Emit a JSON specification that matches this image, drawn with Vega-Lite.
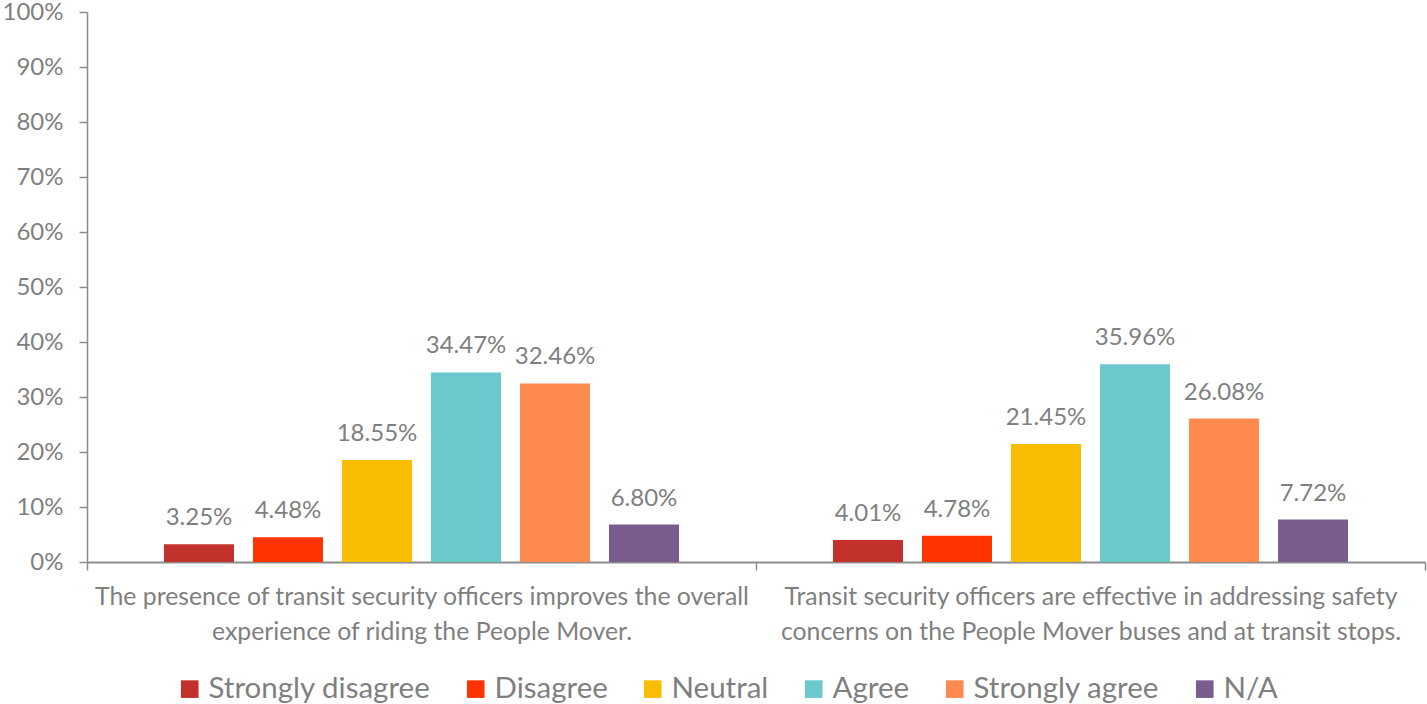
{
  "$schema": "https://vega.github.io/schema/vega-lite/v6.json",
  "width": 1338,
  "height": 550,
  "autosize": {"type": "none"},
  "padding": {"left": 87, "top": 12, "right": 2, "bottom": 142},
  "background": "white",
  "config": {
    "view": {"stroke": null},
    "font": "Lato",
    "axis": {"labelColor": "#7f7f7f", "domainColor": "#8c8c8c", "tickColor": "#8c8c8c", "grid": false, "title": null}
  },
  "data": {
    "values": [
      {"q": "Q1", "r": "Strongly disagree", "v": 0.0325},
      {"q": "Q1", "r": "Disagree", "v": 0.0448},
      {"q": "Q1", "r": "Neutral", "v": 0.1855},
      {"q": "Q1", "r": "Agree", "v": 0.3447},
      {"q": "Q1", "r": "Strongly agree", "v": 0.3246},
      {"q": "Q1", "r": "N/A", "v": 0.068},
      {"q": "Q2", "r": "Strongly disagree", "v": 0.0401},
      {"q": "Q2", "r": "Disagree", "v": 0.0478},
      {"q": "Q2", "r": "Neutral", "v": 0.2145},
      {"q": "Q2", "r": "Agree", "v": 0.3596},
      {"q": "Q2", "r": "Strongly agree", "v": 0.2608},
      {"q": "Q2", "r": "N/A", "v": 0.0772}
    ]
  },
  "encoding": {
    "x": {
      "field": "q", "type": "nominal", "sort": null,
      "scale": {"paddingInner": 0, "paddingOuter": 0},
      "axis": {
        "labelAngle": 0, "tickBand": "extent", "tickSize": 8, "domainWidth": 2, "tickWidth": 1.5,
        "labelFontSize": 24.8, "labelPadding": 14, "labelLineHeight": 35, "labelBaseline": "top",
        "labelLimit": 0, "labelOverlap": false,
        "labelExpr": "datum.value == 'Q1' ? ['The presence of transit security officers improves the overall', 'experience of riding the People Mover.'] : datum.value == 'Q2' ? ['Transit security officers are effective in addressing safety', 'concerns on the People Mover buses and at transit stops.'] : ''"
      }
    },
    "xOffset": {
      "field": "r", "type": "nominal", "sort": ["Strongly disagree", "Disagree", "Neutral", "Agree", "Strongly agree", "N/A"],
      "scale": {"paddingInner": 0.2135, "paddingOuter": 0.865}
    },
    "y": {
      "field": "v", "type": "quantitative",
      "scale": {"domain": [0, 1]},
      "axis": {"format": ".0%", "values": [0,0.1,0.2,0.3,0.4,0.5,0.6,0.7,0.8,0.9,1], "labelOverlap": false, "labelFontSize": 24, "tickSize": 8, "labelPadding": 16, "domainWidth": 1.5, "tickWidth": 1.5}
    }
  },
  "layer": [
    {
      "mark": {"type": "bar"},
      "encoding": {
        "color": {
          "field": "r", "type": "nominal",
          "sort": ["Strongly disagree", "Disagree", "Neutral", "Agree", "Strongly agree", "N/A"],
          "scale": {
            "domain": ["Strongly disagree", "Disagree", "Neutral", "Agree", "Strongly agree", "N/A"],
            "range": ["#C3312C", "#FF3300", "#F8BD00", "#6BC8CC", "#FF8A50", "#7B5C8F"]
          },
          "legend": {
            "orient": "none", "legendX": 88, "legendY": 662, "direction": "horizontal", "title": null,
            "symbolType": "square", "symbolSize": 310, "symbolStrokeWidth": 0,
            "labelFontSize": 29.5, "labelColor": "#7f7f7f", "columnPadding": 30, "labelOffset": 4,
            "labelLimit": 0
          }
        }
      }
    },
    {
      "mark": {"type": "text", "baseline": "alphabetic", "dy": -19, "fontSize": 24, "color": "#7f7f7f"},
      "encoding": {
        "text": {"field": "v", "type": "quantitative", "format": ".2%"}
      }
    }
  ]
}
